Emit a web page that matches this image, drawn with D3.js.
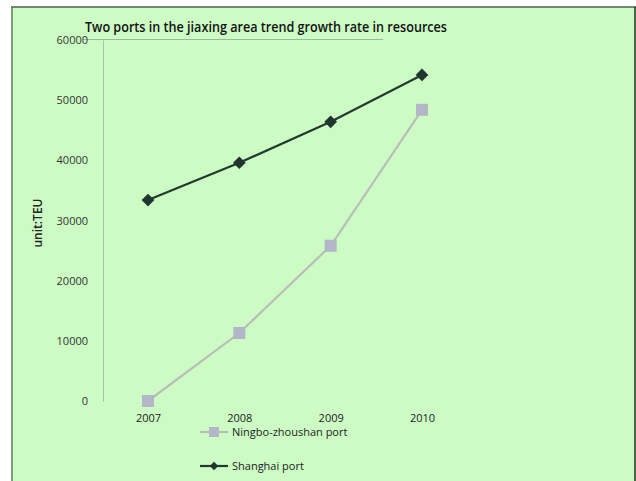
<!DOCTYPE html>
<html>
<head>
<meta charset="UTF-8">
<script src="https://d3js.org/d3.v7.min.js"></script>
<style>
  body { margin: 0; background: #fff; }
  text { font-family: "Open Sans", "Liberation Sans", sans-serif; }
</style>
</head>
<body>
<div id="chart"></div>
<script>
// data
var years = ["2007", "2008", "2009", "2010"];
var shanghai = [33400, 39600, 46400, 54200];
var ningbo = [0, 11300, 25800, 48400];
var yTicks = [0, 10000, 20000, 30000, 40000, 50000, 60000];

var W = 636, H = 481;
var svg = d3.select("#chart").append("svg")
  .attr("width", W).attr("height", H);

// green panel with frame
svg.append("rect").attr("x", 12).attr("y", 7).attr("width", 623).attr("height", H - 7)
  .attr("fill", "#ccfcc4");
svg.append("line").attr("x1", 11).attr("x2", 636).attr("y1", 7).attr("y2", 7)
  .attr("stroke", "#4d6350").attr("stroke-width", 1.5);
svg.append("line").attr("x1", 12).attr("x2", 12).attr("y1", 7).attr("y2", H)
  .attr("stroke", "#5c7a5c").attr("stroke-width", 1.5);
svg.append("line").attr("x1", 635).attr("x2", 635).attr("y1", 7).attr("y2", H)
  .attr("stroke", "#1c2e1c").attr("stroke-width", 1.5);

var plotLeft = 103, plotTop = 40, plotBottom = 401;

var x = d3.scalePoint().domain(years).range([148, 422]);
var y = d3.scaleLinear().domain([0, 60000]).range([plotBottom, plotTop]);

// title
svg.append("text").attr("x", 85).attr("y", 32)
  .attr("font-size", 15).attr("font-weight", 600).attr("fill", "#111")
  .attr("textLength", 362).attr("lengthAdjust", "spacingAndGlyphs")
  .text("Two ports in the jiaxing area trend growth rate in resources");
svg.append("line").attr("x1", 83).attr("x2", 383).attr("y1", 39.5).attr("y2", 39.5)
  .attr("stroke", "#9cb89c").attr("stroke-width", 1);

// y axis
var yAxis = d3.axisLeft(y).tickValues(yTicks).tickSize(0).tickPadding(15)
  .tickFormat(d3.format("d"));
var gy = svg.append("g").attr("transform", "translate(" + plotLeft + ",0)").call(yAxis);
gy.select(".domain").attr("stroke", "#a9c3a9");
gy.selectAll("text").attr("font-size", 11).attr("fill", "#333")
  .attr("font-family", "\"Open Sans\", sans-serif");

// x axis labels
var xAxis = d3.axisBottom(x).tickSize(0).tickPadding(13);
var gx = svg.append("g").attr("transform", "translate(0," + plotBottom + ")").call(xAxis);
gx.select(".domain").remove();
gx.selectAll("text").attr("font-size", 11).attr("fill", "#222")
  .attr("font-family", "\"Open Sans\", sans-serif");

// y axis title
svg.append("text").attr("transform", "translate(42,223) rotate(-90)")
  .attr("text-anchor", "middle").attr("font-size", 12).attr("font-weight", 600)
  .attr("fill", "#222").text("unit:TEU");

var line = d3.line().x(function(d, i) { return x(years[i]); }).y(function(d) { return y(d); });

// Ningbo-zhoushan
svg.append("path").datum(ningbo).attr("d", line)
  .attr("fill", "none").attr("stroke", "#b9bdb9").attr("stroke-width", 2.2);
svg.selectAll(".nb").data(ningbo).enter().append("rect")
  .attr("x", function(d, i) { return x(years[i]) - 6; })
  .attr("y", function(d) { return y(d) - 6; })
  .attr("width", 12).attr("height", 12).attr("fill", "#b3b6c6");

// Shanghai
svg.append("path").datum(shanghai).attr("d", line)
  .attr("fill", "none").attr("stroke", "#22392f").attr("stroke-width", 2.2);
svg.selectAll(".sh").data(shanghai).enter().append("rect")
  .attr("x", -4.5).attr("y", -4.5).attr("width", 9).attr("height", 9)
  .attr("transform", function(d, i) { return "translate(" + x(years[i]) + "," + y(d) + ") rotate(45)"; })
  .attr("fill", "#1f3530");

// legend
var lg1 = svg.append("g").attr("transform", "translate(200,432)");
lg1.append("line").attr("x1", 0).attr("x2", 28).attr("stroke", "#b9bdb9").attr("stroke-width", 2.2);
lg1.append("rect").attr("x", 9).attr("y", -5).attr("width", 10).attr("height", 10).attr("fill", "#b3b6c6");
lg1.append("text").attr("x", 32).attr("y", 4).attr("font-size", 11).attr("fill", "#222")
  .text("Ningbo-zhoushan port");

var lg2 = svg.append("g").attr("transform", "translate(200,466)");
lg2.append("line").attr("x1", 0).attr("x2", 28).attr("stroke", "#22392f").attr("stroke-width", 2.2);
lg2.append("rect").attr("x", -3).attr("y", -3).attr("width", 6).attr("height", 6)
  .attr("transform", "translate(14,0) rotate(45)").attr("fill", "#1f3530");
lg2.append("text").attr("x", 32).attr("y", 4).attr("font-size", 11).attr("fill", "#222")
  .text("Shanghai port");
</script>
</body>
</html>
